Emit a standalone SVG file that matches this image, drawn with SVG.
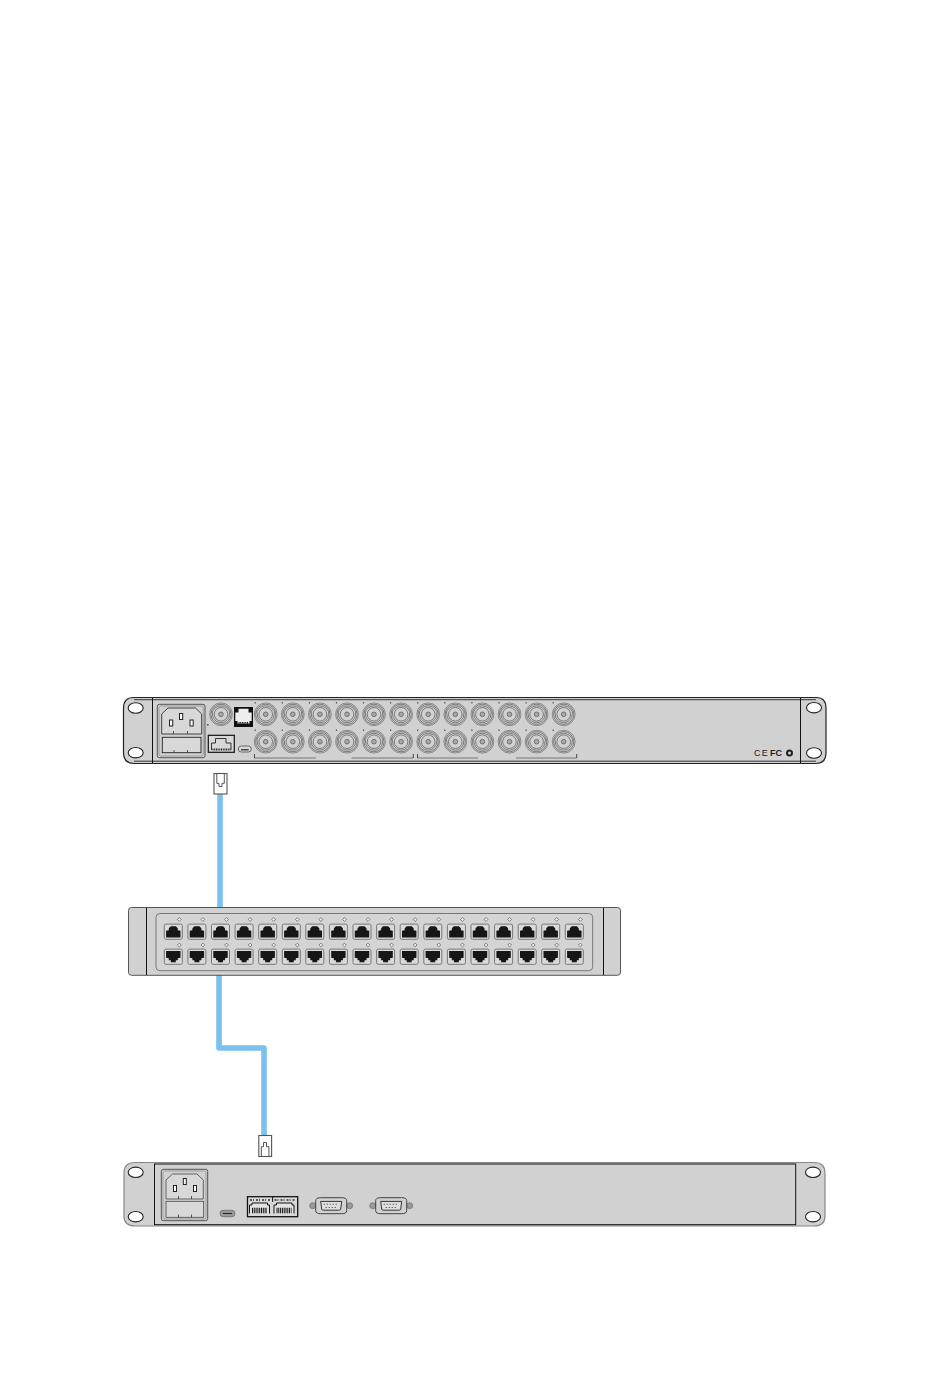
<svg xmlns="http://www.w3.org/2000/svg" width="950" height="1387" viewBox="0 0 950 1387">
<style>
.body{fill:#d1d1d1;stroke:#222;stroke-width:1.2}
.k{fill:none;stroke:#111;stroke-width:1}
.hole{fill:#fff;stroke:#222;stroke-width:1.1}
.cable{fill:none;stroke:#7ac1ed;stroke-width:5.6;stroke-linejoin:round}
.plug{fill:#fff;stroke:#555;stroke-width:1.1}
.slot{fill:#fff;stroke:#222;stroke-width:1}
.tick{stroke:#333;stroke-width:.8;fill:none}
.logo{font-family:"Liberation Sans",Arial,sans-serif;font-size:9px;fill:#222}
</style>
<defs>
<g id="bnc">
<circle r="11.4" fill="#d1d1d1" stroke="#777" stroke-width=".8"/>
<circle r="10.1" fill="none" stroke="#555" stroke-width=".7"/>
<path d="M-8.800-2.500Q-6-8 0-8.500Q6-8 8.800-2.500L8 3Q5.500 8 0 8.500Q-5.500 8-8 3Z" fill="#d1d1d1" stroke="#555" stroke-width=".7"/>
<circle r="6.800" fill="#d1d1d1" stroke="#555" stroke-width=".7"/>
<circle r="2.300" fill="#aaa" stroke="#666" stroke-width=".9"/>
</g>
<g id="bncd"><use href="#bnc"/><rect x="-11.100" y="-12.100" width="1.200" height="1.200" fill="#333"/></g>
<g id="pt">
<rect x="-9" y="-7.600" width="18" height="15.200" rx="1.600" fill="#dadada" stroke="#777" stroke-width="1"/>
<path d="M-7.200 5.800V-1L-4.500-1.500V-3.500L-2.500-5.500H2.500L4.500-3.500V-1.500L7.200-1V5.800Z" fill="#161616"/>
</g>
<g id="pb">
<rect x="-9" y="-7.600" width="18" height="15.200" rx="1.600" fill="#dadada" stroke="#777" stroke-width="1"/>
<path d="M-7.200-5.800H7.200V1L4.500 1.500V3.500H2.500V5.500H-2.500V3.500H-4.500V1.500L-7.200 1Z" fill="#161616"/>
</g>
<path id="dia" d="M0-1.900L1.900 0 0 1.900-1.900 0Z" fill="#eee" stroke="#555" stroke-width=".7"/>
<g id="db9">
<circle cx="-18" r="3" fill="#999" stroke="#777" stroke-width=".8"/>
<circle cx="19" r="3" fill="#999" stroke="#777" stroke-width=".8"/>
<path d="M-15-5Q-15-8-10-8H11Q16-8 16-5V5Q16 8 11 8H-10Q-15 8-15 5Z" fill="#d1d1d1" stroke="#333" stroke-width=".9"/>
<path d="M-10-4.300H11L10 3.500Q10 4.500 8 4.500H-7Q-9 4.500-9 3.500Z" fill="#dedede" stroke="#222" stroke-width=".9"/>
<path d="M-7-1.500h15M-5 1.800h11" stroke="#333" stroke-width="1.100" stroke-dasharray="1 2"/>
</g>
<g id="rjd">
<path d="M2.500 16.500V8H5V6H20.500V8H22.500V16.500" fill="#e4e4e4" stroke="#111" stroke-width="1"/>
<path d="M5 13.500H20" stroke="#111" stroke-width="5.500" stroke-dasharray="1 .8"/>
<path d="M3 3H23" stroke="#333" stroke-width="1.400" stroke-dasharray="2 1 1 2"/>
</g>
</defs>
<rect width="950" height="1387" fill="#fff"/>

<g id="connectors">
<path class="cable" d="M220 794V908"/>
<path class="cable" d="M219 975V1048H264V1136"/>
</g>

<g id="router">
<path class="body" d="M134 697.500H816Q826 697.500 826 708V753Q826 763.500 816 763.500H134Q123.500 763.500 123.500 753V708Q123.500 697.500 134 697.500Z"/>
<path d="M134 699.700H816M134 761.200H816" stroke="#222" stroke-width=".9"/>
<path class="k" d="M152.500 698V763M800.500 698V763"/>
<ellipse class="hole" cx="135.700" cy="708" rx="7.500" ry="5.200"/>
<ellipse class="hole" cx="135.700" cy="752.700" rx="7.500" ry="5.200"/>
<ellipse class="hole" cx="814" cy="707.700" rx="7.500" ry="5.200"/>
<ellipse class="hole" cx="814" cy="753" rx="7.500" ry="5.200"/>
<g id="router-power">
<rect x="157.300" y="704.300" width="47.700" height="53.400" rx="2" fill="#d1d1d1" stroke="#555" stroke-width="1"/>
<rect x="159" y="706" width="44.300" height="50" rx="1.500" fill="none" stroke="#888" stroke-width=".7"/>
<path d="M161.700 734V714L168 708H195.500L201.700 714V734Z" fill="#d8d8d8" stroke="#333" stroke-width=".9"/>
<rect class="slot" x="169.500" y="720" width="3.200" height="6"/>
<rect class="slot" x="179.500" y="713.500" width="3.200" height="6"/>
<rect class="slot" x="190" y="720" width="3.200" height="6"/>
<path class="tick" d="M173.500 731V734M187.500 731V734"/>
<rect x="162.300" y="737.300" width="38.700" height="15.400" fill="#d8d8d8" stroke="#222" stroke-width=".9"/>
<path class="tick" d="M174 750V752.700M187.500 750V752.700"/>
</g>
<use href="#bnc" x="221" y="714.300"/>
<rect x="207" y="724" width="1.600" height="1.600" fill="#555"/>
<g id="router-rj">
<rect x="234.500" y="707.500" width="18" height="19" fill="#111" stroke="#111" stroke-width="1"/>
<path d="M235.300 721V712.500H238.500V708.800H248.500V712.500H251.700V721H249.500V723.500H237.500V721Z" fill="#eee"/>
<path d="M238.500 722.800H248.500" stroke="#111" stroke-width="1.400" stroke-dasharray="1 .7"/>
</g>
<g id="router-eth">
<rect x="208.300" y="735.300" width="26" height="17" fill="#d8d8d8" stroke="#111" stroke-width="1.200"/>
<path d="M211.500 750V743H215.500V738.500H226V743H231V750" fill="none" stroke="#222" stroke-width=".9"/>
<path d="M212.500 749.500H230.500" stroke="#222" stroke-width="2" stroke-dasharray="1 .7"/>
</g>
<g id="router-usb">
<rect x="238.300" y="746" width="13" height="6" rx="3" fill="#d8d8d8" stroke="#666" stroke-width="1"/>
<path d="M241 749.800H248.600" stroke="#222" stroke-width="1.200"/>
</g>
<g id="router-bnc">
<use href="#bncd" x="265.700" y="714.300"/><use href="#bncd" x="292.800" y="714.300"/><use href="#bncd" x="319.900" y="714.300"/><use href="#bncd" x="347" y="714.300"/><use href="#bncd" x="374" y="714.300"/><use href="#bncd" x="401.100" y="714.300"/><use href="#bncd" x="428.200" y="714.300"/><use href="#bncd" x="455.300" y="714.300"/><use href="#bncd" x="482.400" y="714.300"/><use href="#bncd" x="509.500" y="714.300"/><use href="#bncd" x="536.600" y="714.300"/><use href="#bncd" x="563.700" y="714.300"/>
<use href="#bncd" x="265.700" y="741.700"/><use href="#bncd" x="292.800" y="741.700"/><use href="#bncd" x="319.900" y="741.700"/><use href="#bncd" x="347" y="741.700"/><use href="#bncd" x="374" y="741.700"/><use href="#bncd" x="401.100" y="741.700"/><use href="#bncd" x="428.200" y="741.700"/><use href="#bncd" x="455.300" y="741.700"/><use href="#bncd" x="482.400" y="741.700"/><use href="#bncd" x="509.500" y="741.700"/><use href="#bncd" x="536.600" y="741.700"/><use href="#bncd" x="563.700" y="741.700"/>
</g>
<path d="M254.500 758H316M351.700 758H413M417.500 758H478M516 758H576.500" stroke="#777" stroke-width="1" fill="none"/>
<path d="M254.500 754V758M413.300 754V758M417.500 754V758M576.700 754V758" stroke="#222" stroke-width=".8" fill="none"/>
<g id="router-logos">
<text class="logo" x="754" y="756.200" letter-spacing="1.200">CE</text>
<text class="logo" x="770" y="756.200" font-weight="700">FC</text>
<circle cx="789.500" cy="753" r="2.500" fill="#d1d1d1" stroke="#222" stroke-width="2"/>
</g>
</g>

<g id="plug-top">
<rect class="plug" x="214" y="773.500" width="13" height="20.500"/>
<path d="M216.800 773.500V783.300H219V786.500H222V783.300H224.300V773.500" fill="none" stroke="#555" stroke-width="1"/>
</g>

<g id="patchbay">
<rect x="128.500" y="907.500" width="492" height="67.800" rx="3" fill="#d1d1d1" stroke="#555" stroke-width="1"/>
<path class="k" d="M146.500 908V975M603.500 908V975"/>
<rect x="156" y="913.500" width="436.700" height="57.200" rx="4" fill="#d4d4d4" stroke="#777" stroke-width="1"/>
<g id="patch-ports">
<use href="#pt" x="173.300" y="931.700"/><use href="#pt" x="196.900" y="931.700"/><use href="#pt" x="220.500" y="931.700"/><use href="#pt" x="244.100" y="931.700"/><use href="#pt" x="267.700" y="931.700"/><use href="#pt" x="291.300" y="931.700"/><use href="#pt" x="314.800" y="931.700"/><use href="#pt" x="338.400" y="931.700"/><use href="#pt" x="362" y="931.700"/><use href="#pt" x="385.600" y="931.700"/><use href="#pt" x="409.200" y="931.700"/><use href="#pt" x="432.800" y="931.700"/><use href="#pt" x="456.400" y="931.700"/><use href="#pt" x="480" y="931.700"/><use href="#pt" x="503.600" y="931.700"/><use href="#pt" x="527.200" y="931.700"/><use href="#pt" x="550.700" y="931.700"/><use href="#pt" x="574.300" y="931.700"/>
<use href="#pb" x="173.300" y="956.700"/><use href="#pb" x="196.900" y="956.700"/><use href="#pb" x="220.500" y="956.700"/><use href="#pb" x="244.100" y="956.700"/><use href="#pb" x="267.700" y="956.700"/><use href="#pb" x="291.300" y="956.700"/><use href="#pb" x="314.800" y="956.700"/><use href="#pb" x="338.400" y="956.700"/><use href="#pb" x="362" y="956.700"/><use href="#pb" x="385.600" y="956.700"/><use href="#pb" x="409.200" y="956.700"/><use href="#pb" x="432.800" y="956.700"/><use href="#pb" x="456.400" y="956.700"/><use href="#pb" x="480" y="956.700"/><use href="#pb" x="503.600" y="956.700"/><use href="#pb" x="527.200" y="956.700"/><use href="#pb" x="550.700" y="956.700"/><use href="#pb" x="574.300" y="956.700"/>
</g>
<g id="patch-leds">
<use href="#dia" x="179.300" y="919.500"/><use href="#dia" x="202.900" y="919.500"/><use href="#dia" x="226.500" y="919.500"/><use href="#dia" x="250.100" y="919.500"/><use href="#dia" x="273.700" y="919.500"/><use href="#dia" x="297.300" y="919.500"/><use href="#dia" x="320.800" y="919.500"/><use href="#dia" x="344.400" y="919.500"/><use href="#dia" x="368" y="919.500"/><use href="#dia" x="391.600" y="919.500"/><use href="#dia" x="415.200" y="919.500"/><use href="#dia" x="438.800" y="919.500"/><use href="#dia" x="462.400" y="919.500"/><use href="#dia" x="486" y="919.500"/><use href="#dia" x="509.600" y="919.500"/><use href="#dia" x="533.200" y="919.500"/><use href="#dia" x="556.700" y="919.500"/><use href="#dia" x="580.300" y="919.500"/>
<use href="#dia" x="179.300" y="945"/><use href="#dia" x="202.900" y="945"/><use href="#dia" x="226.500" y="945"/><use href="#dia" x="250.100" y="945"/><use href="#dia" x="273.700" y="945"/><use href="#dia" x="297.300" y="945"/><use href="#dia" x="320.800" y="945"/><use href="#dia" x="344.400" y="945"/><use href="#dia" x="368" y="945"/><use href="#dia" x="391.600" y="945"/><use href="#dia" x="415.200" y="945"/><use href="#dia" x="438.800" y="945"/><use href="#dia" x="462.400" y="945"/><use href="#dia" x="486" y="945"/><use href="#dia" x="509.600" y="945"/><use href="#dia" x="533.200" y="945"/><use href="#dia" x="556.700" y="945"/><use href="#dia" x="580.300" y="945"/>
</g>
</g>

<g id="plug-bottom">
<rect class="plug" x="258.800" y="1135.500" width="12.800" height="21"/>
<path d="M261.300 1156.500V1146.700H263.500V1142.500H266.500V1146.700H268.900V1156.500" fill="none" stroke="#555" stroke-width="1"/>
</g>

<g id="controller">
<path d="M135 1162.500H814Q825 1162.500 825 1173V1216Q825 1226 814 1226H135Q124 1226 124 1216V1173Q124 1162.500 135 1162.500Z" fill="#d1d1d1" stroke="#888" stroke-width="1.200"/>
<rect x="154.500" y="1164" width="641.200" height="60.700" fill="none" stroke="#111" stroke-width="1"/>
<ellipse class="hole" cx="135.700" cy="1172.300" rx="7.500" ry="5.200"/>
<ellipse class="hole" cx="135.700" cy="1216.700" rx="7.500" ry="5.200"/>
<ellipse class="hole" cx="813" cy="1172.300" rx="7.500" ry="5.200"/>
<ellipse class="hole" cx="813" cy="1216.700" rx="7.500" ry="5.200"/>
<g id="controller-power">
<rect x="161.300" y="1169.300" width="46.400" height="51.400" rx="2" fill="#d1d1d1" stroke="#555" stroke-width="1"/>
<rect x="163" y="1171" width="43" height="48" rx="1.500" fill="none" stroke="#888" stroke-width=".7"/>
<path d="M166 1199V1180L172.500 1174H197L203.300 1180V1199Z" fill="#d8d8d8" stroke="#444" stroke-width=".8"/>
<rect class="slot" x="173.500" y="1185.500" width="3" height="6"/>
<rect class="slot" x="183.300" y="1178.500" width="3" height="6"/>
<rect class="slot" x="193.500" y="1185.500" width="3" height="6"/>
<path class="tick" d="M178.500 1196V1199M191.500 1196V1199"/>
<rect x="166" y="1201.300" width="37.700" height="16" fill="#d8d8d8" stroke="#444" stroke-width=".8"/>
<path class="tick" d="M178.500 1214.500V1217.300M191.500 1214.500V1217.300"/>
</g>
<g id="controller-usb">
<rect x="220" y="1210.300" width="15" height="6.400" rx="3.200" fill="#999" stroke="#777" stroke-width="1"/>
<path d="M223 1213.500H232" stroke="#222" stroke-width="1"/>
</g>
<g id="controller-rj">
<rect x="247.500" y="1196.700" width="50.200" height="20" fill="#d8d8d8" stroke="#111" stroke-width="1.300"/>
<path d="M272.600 1197V1202" stroke="#111" stroke-width="1"/>
<use href="#rjd" x="247" y="1197"/>
<use href="#rjd" x="271.500" y="1197"/>
</g>
<use href="#db9" x="330.700" y="1205.700"/>
<use href="#db9" x="390.700" y="1205.700"/>
</g>
</svg>
